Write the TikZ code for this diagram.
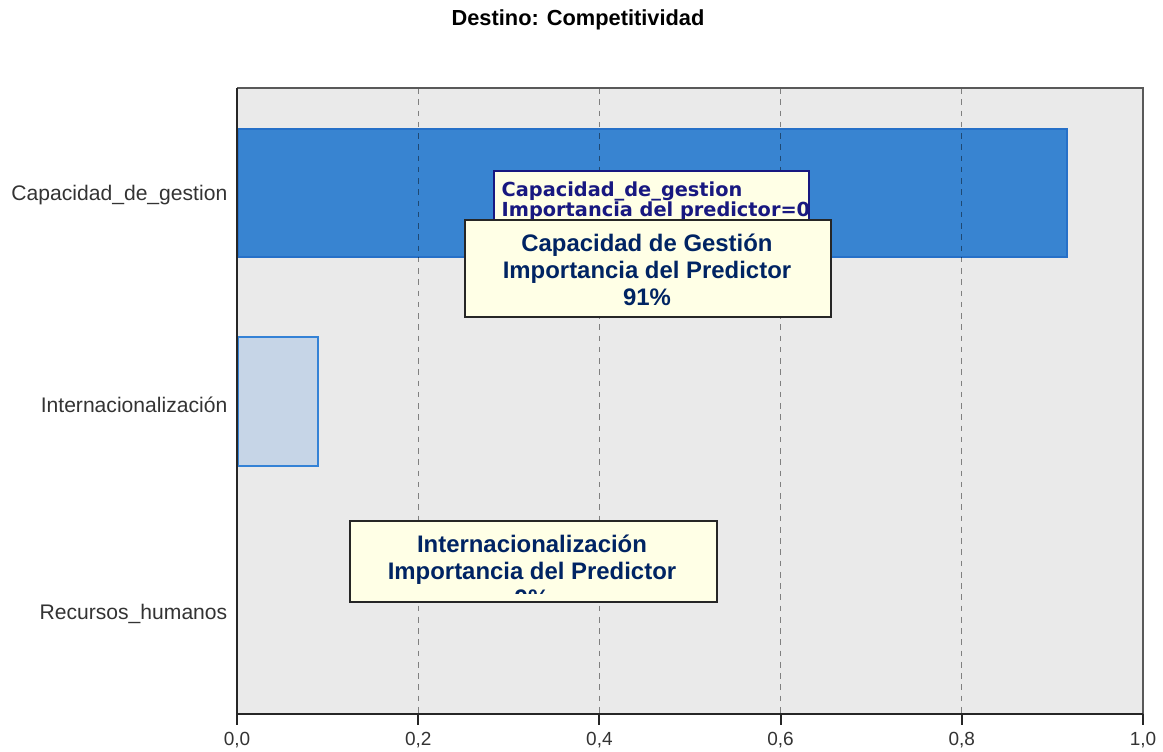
\documentclass[tikz,border=0pt]{standalone}
\usepackage{fontspec}
\setmainfont{Liberation Sans}
\newfontfamily\tipfont{DejaVu Sans}
\usepackage{tikz}
\newcommand{\pxunit}{0.01cm}
\newcommand{\plotleft}{237}
\newcommand{\plotright}{1143}
\newcommand{\plottop}{88}
\newcommand{\plotbottom}{714}
\definecolor{plotGray}{RGB}{234,234,234}
\definecolor{barBlue}{RGB}{56,132,209}
\definecolor{barEdge}{RGB}{38,112,200}
\definecolor{barLight}{RGB}{198,213,231}
\definecolor{barLightEdge}{RGB}{52,130,214}
\definecolor{tipFill}{RGB}{255,255,230}
\definecolor{tipNavy}{RGB}{24,24,128}
\definecolor{tipText}{RGB}{0,36,99}
\usetikzlibrary{positioning,calc}
\tikzset{
  x=\pxunit,y=-\pxunit,
  title/.style={font=\bfseries\fontsize{6.2}{7}\selectfont,inner sep=0},
  catlabel/.style={anchor=east,font=\fontsize{6}{7}\selectfont,text=black!80,inner sep=0},
  ticklabel/.style={anchor=north,font=\fontsize{5.4}{6}\selectfont,text=black!80,inner sep=0},
  bar/.style={draw=barEdge,fill=barBlue,line width=0.5pt,anchor=north west,inner sep=0},
  lightbar/.style={bar,draw=barLightEdge,fill=barLight},
  gridline/.style={draw=black,opacity=0.45,dash pattern=on 1.6pt off 1.6pt,line width=0.35pt},
  tip/.style={draw=black!85,fill=tipFill,line width=0.45pt,anchor=north west,inner sep=0},
  oldtip/.style={tip,draw=tipNavy,line width=0.6pt},
  tiptext/.style={align=center,text=tipText,font=\bfseries\fontsize{6.8}{7.7}\selectfont,inner sep=0},
  oldtiptext/.style={align=left,anchor=north west,text=tipNavy,font=\tipfont\bfseries\fontsize{5.5}{5.7}\selectfont,inner sep=0},
}

\begin{document}
\begin{tikzpicture}
  \useasboundingbox (0,0) rectangle (1163,751);
  \node (title) [title] at (578,20) {Destino: Competitividad};
  % plot area
  \fill [plotGray] (\plotleft,\plottop) rectangle (\plotright,\plotbottom);
  \node (capbar) [bar,minimum width=8.29cm,minimum height=1.28cm] at (\plotleft,128) {};
  \node (intbar) [lightbar,minimum width=0.80cm,minimum height=1.29cm] at (\plotleft,336) {};
  \foreach \t in {0.2,0.4,0.6,0.8}
    \draw [gridline] ({\plotleft+906*\t},\plottop) -- ({\plotleft+906*\t},\plotbottom);
  \draw [black!65,line width=0.7pt] (\plotleft,\plottop) -- (\plotright,\plottop) -- (\plotright,\plotbottom);
  \draw [black!85,line width=0.6pt] (\plotleft,\plottop) -- (\plotleft,\plotbottom) -- (\plotright,\plotbottom);
  % axis ticks and labels
  \foreach \t/\lab in {0/{0,0},0.2/{0,2},0.4/{0,4},0.6/{0,6},0.8/{0,8},1/{1,0}} {
    \draw [black!85,line width=0.6pt] ({\plotleft+906*\t},\plotbottom) -- ({\plotleft+906*\t},725);
    \node [ticklabel] at ({\plotleft+906*\t},732) {\lab};
  }
  \node (caplab) [catlabel] at (228,195) {Capacidad\_de\_gestion};
  \node (intlab) [catlabel] at (228,405) {Internacionalización};
  \node (reclab) [catlabel] at (228,614) {Recursos\_humanos};
  % tooltips
  \node (oldtip) [oldtip,minimum width=3.15cm,minimum height=0.56cm] at (493,170) {};
  \begin{scope}
    \clip (oldtip.north west) rectangle (oldtip.south east);
    \node (oldtxt) [oldtiptext] at (501,181) {Capacidad\_de\_gestion\\Importancia del predictor=0.91};
  \end{scope}
  \node (captip) [tip,minimum width=3.66cm,minimum height=0.97cm] at (464,219) {};
  \node (captxt) [tiptext] at (647,270) {Capacidad de Gestión\\Importancia del Predictor\\91\%};
  \node (inttip) [tip,minimum width=3.67cm,minimum height=0.81cm] at (349,520) {};
  \begin{scope}
    \clip (349,520) rectangle (716,593);
    \node (inttxt) [tiptext] at (532,571) {Internacionalización\\Importancia del Predictor\\9\%};
  \end{scope}
\end{tikzpicture}
\end{document}
